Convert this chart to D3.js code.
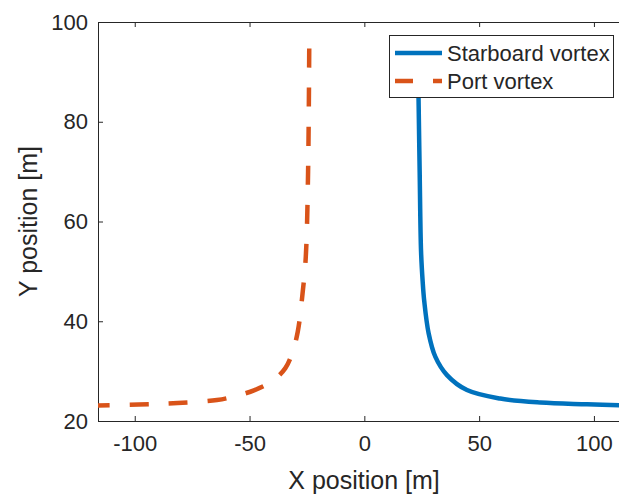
<!DOCTYPE html>
<html>
<head>
<meta charset="utf-8">
<script src="https://cdn.jsdelivr.net/npm/d3@7"></script>
<style>
  html, body { margin: 0; padding: 0; background: #fff; }
  svg { display: block; }
  text { font-family: "Liberation Sans", Arial, Helvetica, sans-serif; fill: #262626; }
</style>
</head>
<body>
<script>
// ---- data ----
const starboardX = [23.3, 23.6, 24.1, 24.7, 25.4, 26.1, 28.0, 30.9, 36.0, 44.7, 59.2, 76.7, 97.0, 114.0];
const starboardY = [95.0, 85.0, 70.0, 54.0, 48.0, 44.0, 37.6, 32.9, 29.2, 26.2, 24.5, 23.7, 23.35, 23.1];
const portX = [-24.0, -24.5, -25.5, -26.9, -29.0, -31.5, -34.4, -40.0, -47.8, -56.0, -64.2, -81.3, -98.3, -119.2];
const portY = [94.7, 70.0, 52.9, 45.6, 37.9, 33.5, 30.6, 28.0, 26.2, 25.0, 24.2, 23.6, 23.3, 23.1];
const xTicks = [-100, -50, 0, 50, 100];
const yTicks = [20, 40, 60, 80, 100];
const seriesNames = ["Starboard vortex", "Port vortex"];
const seriesColors = ["#0072BD", "#D95319"];
const xLabel = "X position [m]";
const yLabel = "Y position [m]";

const W = 619, H = 495;
const mLeft = 98, mTop = 22, mBottom = 421;
const pxPerUnit = 2.296;
const xDomain = [-116, 116];
const mRight = mLeft + (xDomain[1] - xDomain[0]) * pxPerUnit;

const svg = d3.select("body").append("svg").attr("width", W).attr("height", H);

const x = d3.scaleLinear().domain(xDomain).range([mLeft, mRight]);
const y = d3.scaleLinear().domain([20, 100]).range([mBottom, mTop]);

svg.append("defs").append("clipPath").attr("id", "clip")
  .append("rect").attr("x", mLeft).attr("y", mTop).attr("width", mRight - mLeft).attr("height", mBottom - mTop);

const axisColor = "#262626";

// axes (MATLAB-like box with inward ticks)
const gx = svg.append("g").attr("transform", `translate(0,${mBottom})`)
  .call(d3.axisBottom(x).tickValues(xTicks).tickSizeInner(-5).tickSizeOuter(0).tickPadding(14).tickFormat(d3.format("d")));
const gxTop = svg.append("g").attr("transform", `translate(0,${mTop})`)
  .call(d3.axisTop(x).tickValues(xTicks).tickSizeInner(-5).tickSizeOuter(0).tickFormat(""));
const gy = svg.append("g").attr("transform", `translate(${mLeft},0)`)
  .call(d3.axisLeft(y).tickValues(yTicks).tickSizeInner(-5).tickSizeOuter(0).tickPadding(10).tickFormat(d3.format("d")));

[gx, gxTop, gy].forEach(g => {
  g.select(".domain").attr("stroke", axisColor).attr("stroke-width", 1);
  g.selectAll(".tick line").attr("stroke", axisColor).attr("stroke-width", 1);
  g.selectAll(".tick text").attr("font-size", 22).attr("fill", axisColor)
    .style("font-family", '"Liberation Sans", Arial, sans-serif');
});
gx.selectAll(".tick text").text(d => d < 0 ? "-" + Math.abs(d) : d);

// lines
const starData = starboardX.map((v, i) => [v, starboardY[i]]);
const portData = portX.map((v, i) => [v, portY[i]]);
const line = d3.line().x(d => x(d[0])).y(d => y(d[1])).curve(d3.curveCatmullRom.alpha(0.5));

const plot = svg.append("g").attr("clip-path", "url(#clip)");
plot.append("path").datum(starData).attr("d", line)
  .attr("fill", "none").attr("stroke", seriesColors[0]).attr("stroke-width", 4.5);
plot.append("path").datum(portData.slice().reverse()).attr("d", line)
  .attr("fill", "none").attr("stroke", seriesColors[1]).attr("stroke-width", 4.5)
  .attr("stroke-dasharray", "19,20");

// axis labels
svg.append("text").attr("x", 364).attr("y", 489).attr("text-anchor", "middle")
  .attr("font-size", 25).text(xLabel);
svg.append("text").attr("transform", `translate(37,${(mTop + mBottom) / 2}) rotate(-90)`)
  .attr("text-anchor", "middle").attr("font-size", 25).text(yLabel);

// legend
const lg = svg.append("g");
lg.append("rect").attr("x", 389.5).attr("y", 35.5).attr("width", 224).attr("height", 62)
  .attr("fill", "#fff").attr("stroke", axisColor).attr("stroke-width", 1);
const rowY = [53, 81];
seriesNames.forEach((name, i) => {
  lg.append("line").attr("x1", 395).attr("x2", 442).attr("y1", rowY[i]).attr("y2", rowY[i])
    .attr("stroke", seriesColors[i]).attr("stroke-width", 4.5)
    .attr("stroke-dasharray", i === 1 ? "18,20" : null);
  lg.append("text").attr("x", 447).attr("y", rowY[i]).attr("dy", "0.35em")
    .attr("font-size", 22).text(name);
});
</script>
</body>
</html>
